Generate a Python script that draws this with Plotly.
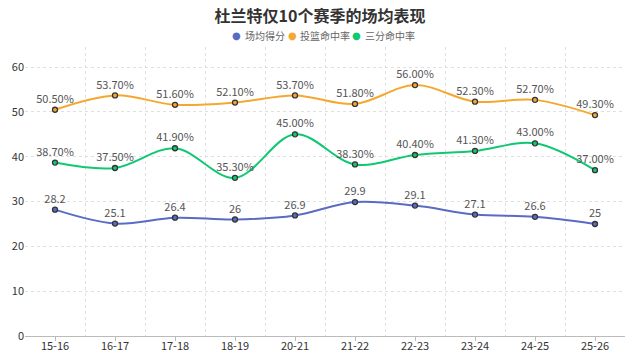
import plotly.graph_objects as go

seasons = ["15-16", "16-17", "17-18", "18-19", "20-21", "21-22", "22-23", "23-24", "24-25", "25-26"]
points = [28.2, 25.1, 26.4, 26, 26.9, 29.9, 29.1, 27.1, 26.6, 25]
fg_pct = [50.5, 53.7, 51.6, 52.1, 53.7, 51.8, 56.0, 52.3, 52.7, 49.3]
three_pct = [38.7, 37.5, 41.9, 35.3, 45.0, 38.3, 40.4, 41.3, 43.0, 37.0]
series_names = ["场均得分", "投篮命中率", "三分命中率"]
colors = ["#5a6bc4", "#f5a82f", "#10c872"]

FONT = "Noto Sans CJK SC, Microsoft YaHei, sans-serif"

fig = go.Figure()

def add_series(y, name, color, text):
    fig.add_trace(go.Scatter(
        x=seasons, y=y, mode="lines+markers+text", name=name,
        line=dict(color=color, width=2, shape="spline", smoothing=1),
        marker=dict(size=5, color=color, line=dict(color="#333333", width=1.3)),
        text=text, textposition="top center",
        textfont=dict(size=11, color="#555555", family=FONT),
        showlegend=False, cliponaxis=False,
    ))

add_series(points, series_names[0], colors[0], [str(v) for v in points])
add_series(fg_pct, series_names[1], colors[1], [f"{v:.2f}%" for v in fg_pct])
add_series(three_pct, series_names[2], colors[2], [f"{v:.2f}%" for v in three_pct])

# invisible trace on an overlay axis, only to draw small ticks at category centres
fig.add_trace(go.Scatter(x=seasons, y=points, xaxis="x2", mode="markers",
                         marker=dict(opacity=0), showlegend=False, hoverinfo="skip"))

# custom legend (circle + label), positioned in paper coordinates
legend_circle_x = [0.3517, 0.445, 0.5517]
legend_text_x = [0.3633, 0.455, 0.5633]
legend_y = 1.0415
for name, color, cx, tx in zip(series_names, colors, legend_circle_x, legend_text_x):
    fig.add_annotation(x=cx, y=legend_y, xref="paper", yref="paper", text="●",
                       showarrow=False, xanchor="center", yanchor="middle",
                       font=dict(size=10, color=color, family="DejaVu Sans"))
    fig.add_annotation(x=tx, y=legend_y, xref="paper", yref="paper", text=name,
                       showarrow=False, xanchor="left", yanchor="middle",
                       font=dict(size=10, color="#666666", family=FONT))

fig.update_layout(
    width=640, height=358,
    margin=dict(l=25, r=15, t=47, b=22, autoexpand=False),
    paper_bgcolor="white", plot_bgcolor="white",
    font=dict(family=FONT, size=11, color="#333333"),
    title=dict(text="<b>杜兰特仅10个赛季的场均表现</b>", x=0.5, xanchor="center",
               y=1 - 16 / 358, yref="container", yanchor="middle",
               font=dict(size=16, color="#333333", family=FONT)),
    showlegend=False,
    xaxis2=dict(overlaying="x", type="category", range=[-0.5, 9.5],
                side="bottom", anchor="y", showgrid=False, showline=False,
                ticks="outside", ticklen=4, tickwidth=1, tickcolor="#bbbbbb",
                showticklabels=False, automargin=False),
)

fig.update_xaxes(
    type="category", tickson="boundaries", showgrid=True,
    gridcolor="#e0e0e0", griddash="dot", gridwidth=1,
    showline=True, linecolor="#bbbbbb", linewidth=1,
    ticks="", tickfont=dict(size=11, color="#333333"),
    range=[-0.5, 9.5], automargin=False, selector=dict(anchor="y") if False else None,
)
fig.layout.xaxis2.showgrid = False
fig.layout.xaxis2.showline = False
fig.layout.xaxis2.ticks = "outside"
fig.layout.xaxis2.showticklabels = False
fig.layout.xaxis2.tickson = "labels"

fig.update_yaxes(
    range=[0, 64.5], tickvals=[0, 10, 20, 30, 40, 50, 60],
    showgrid=True, gridcolor="#e0e0e0", griddash="dot", gridwidth=1,
    zeroline=False, showline=False, ticks="",
    tickfont=dict(size=11, color="#333333"), automargin=False,
)

fig.write_html("out.html", config={"displayModeBar": False},
               post_script="document.body.style.margin='0';")
